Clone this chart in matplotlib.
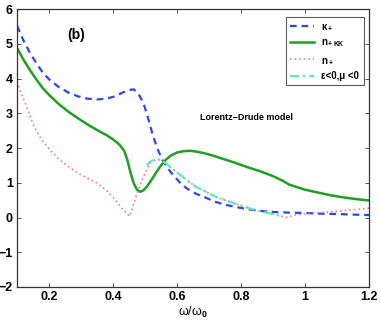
import matplotlib
matplotlib.use("Agg")
import matplotlib.pyplot as plt

plt.rcParams['font.family'] = ['Liberation Sans', 'DejaVu Sans']
plt.rcParams['mathtext.fontset'] = 'custom'
plt.rcParams['mathtext.rm'] = 'Liberation Sans:bold'
plt.rcParams['mathtext.it'] = 'Liberation Sans:bold'
plt.rcParams['mathtext.bf'] = 'Liberation Sans:bold'

# kappa_+
kap_w = [0.10, 0.12, 0.14, 0.16, 0.18, 0.20, 0.23, 0.26, 0.29, 0.32, 0.35, 0.38, 0.41,
         0.43, 0.45, 0.465, 0.48, 0.495, 0.51, 0.525, 0.54, 0.555, 0.57, 0.59, 0.61,
         0.63, 0.66, 0.69, 0.72, 0.75, 0.78, 0.82, 0.86, 0.90, 0.95, 1.00, 1.05, 1.10,
         1.15, 1.20]
kap_v = [5.52, 5.10, 4.75, 4.45, 4.18, 3.98, 3.76, 3.60, 3.49, 3.42, 3.40, 3.42, 3.50,
         3.60, 3.67, 3.69, 3.55, 3.30, 2.85, 2.35, 1.95, 1.65, 1.43, 1.20, 1.00,
         0.84, 0.68, 0.57, 0.45, 0.37, 0.31, 0.24, 0.19, 0.16, 0.14, 0.13, 0.11, 0.10,
         0.085, 0.07]

# n_+KK
nkk_w = [0.10, 0.12, 0.14, 0.16, 0.18, 0.20, 0.23, 0.26, 0.29, 0.32, 0.35, 0.38, 0.40,
         0.42, 0.435, 0.445, 0.455, 0.465, 0.475, 0.485, 0.495, 0.505, 0.52, 0.535,
         0.55, 0.565, 0.58, 0.60, 0.62, 0.64, 0.66, 0.69, 0.72, 0.75, 0.78, 0.82, 0.86,
         0.90, 0.93, 0.95, 0.98, 1.00, 1.04, 1.08, 1.12, 1.16, 1.20]
nkk_v = [4.88, 4.55, 4.25, 3.98, 3.73, 3.53, 3.27, 3.05, 2.86, 2.68, 2.52, 2.37, 2.25,
         2.10, 1.92, 1.65, 1.28, 0.98, 0.80, 0.74, 0.78, 0.88, 1.08, 1.30,
         1.50, 1.66, 1.78, 1.87, 1.91, 1.92, 1.90, 1.84, 1.76, 1.67, 1.58, 1.45, 1.33,
         1.19, 1.06, 0.95, 0.86, 0.80, 0.72, 0.64, 0.58, 0.53, 0.49]

# n_+
n_w = [0.10, 0.11, 0.12, 0.135, 0.15, 0.165, 0.18, 0.20, 0.23, 0.26, 0.29, 0.32, 0.35,
       0.38, 0.41, 0.43, 0.445, 0.452, 0.46, 0.472, 0.485, 0.495, 0.505, 0.515, 0.527,
       0.537, 0.55, 0.565, 0.58, 0.60, 0.63, 0.66, 0.69, 0.72, 0.75, 0.78, 0.82, 0.86,
       0.90, 0.93, 0.94, 0.97, 1.00, 1.05, 1.10, 1.15, 1.20]
n_v = [3.91, 3.65, 3.42, 3.08, 2.68, 2.42, 2.20, 1.98, 1.68, 1.47, 1.28, 1.13, 0.99,
       0.78, 0.48, 0.24, 0.10, 0.03, 0.25, 0.60, 0.95, 1.17, 1.38, 1.55, 1.64,
       1.67, 1.65, 1.56, 1.45, 1.30, 1.08, 0.88, 0.74, 0.60, 0.50, 0.40, 0.28, 0.18,
       0.10, 0.03, 0.00, 0.07, 0.11, 0.14, 0.18, 0.22, 0.27]

# epsilon<0, mu<0 region
neg_w = [0.505, 0.515, 0.527, 0.537, 0.55, 0.565, 0.58, 0.60, 0.63, 0.66, 0.69, 0.72,
         0.75, 0.78, 0.82, 0.86, 0.90, 0.93]
neg_v = [1.50, 1.60, 1.66, 1.68, 1.65, 1.56, 1.45, 1.30, 1.08, 0.88, 0.74, 0.60,
         0.50, 0.40, 0.28, 0.18, 0.10, 0.03]

labels = [r'$\kappa_+$', r'n$_{+\ \mathrm{KK}}$', r'n$_+$', r'ε<0,μ <0']
xticks = [0.2, 0.4, 0.6, 0.8, 1.0, 1.2]
xtick_labels = ['0.2', '0.4', '0.6', '0.8', '1', '1.2']
yticks = [-2, -1, 0, 1, 2, 3, 4, 5, 6]

fig = plt.figure(figsize=(3.81, 3.25), dpi=100)
ax = fig.add_axes([0.0446, 0.117, 0.924, 0.855])

ax.plot(kap_w, kap_v, color='#2b44ff', ls=(0, (3, 2.2)), lw=1.6, label=labels[0])
ax.plot(nkk_w, nkk_v, color='#1fa01f', ls='-', lw=1.8, label=labels[1])
ax.plot(n_w, n_v, color='#ff6a6a', ls=(0, (1, 2)), lw=1.1, label=labels[2])
ax.plot(neg_w, neg_v, color='#55f0b8', ls=(0, (4, 1.8, 1, 1.8)), lw=1.6, label=labels[3])

ax.set_xlim(0.1, 1.2)
ax.set_ylim(-2, 6)
ax.set_xticks(xticks)
ax.set_xticklabels(xtick_labels)
ax.set_yticks(yticks)
ax.tick_params(direction='in', top=True, right=True, length=3, width=0.7,
               labelsize=9, pad=3, colors='#555555', labelcolor='black')
for lab in ax.get_xticklabels() + ax.get_yticklabels():
    lab.set_fontweight('bold')
for s in ax.spines.values():
    s.set_color('#333333')
    s.set_linewidth(0.9)

ax.set_xlabel(r'ω/ω$_0$', fontsize=9, labelpad=1)

ax.text(0.284, 5.25, '(b)', fontsize=10, fontweight='bold', ha='center', va='center')
ax.text(0.816, 2.88, 'Lorentz\u2212Drude model', fontsize=6.5, fontweight='bold',
        ha='center', va='center')

leg = ax.legend(loc='upper right', bbox_to_anchor=(0.99, 0.978), fontsize=7,
                frameon=True, fancybox=False, edgecolor='#333333', borderpad=0.45,
                handlelength=2.4, labelspacing=0.55, handletextpad=0.8,
                borderaxespad=0.2)
leg.get_frame().set_linewidth(0.8)
for t in leg.get_texts():
    t.set_fontweight('bold')

fig.savefig('out.png', dpi=100)
